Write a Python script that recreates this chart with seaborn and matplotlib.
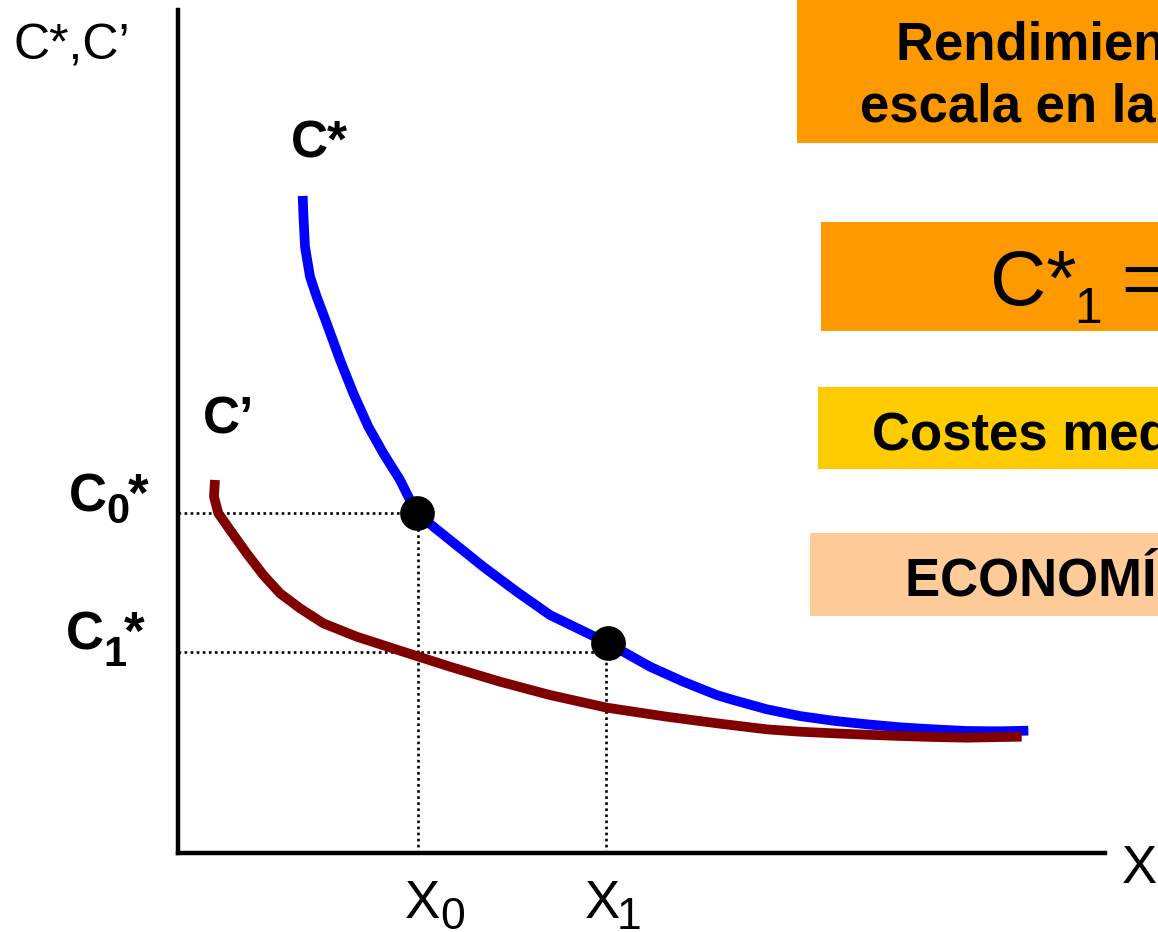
import numpy as np
import pandas as pd
import seaborn as sns
import matplotlib
matplotlib.use("Agg")
import matplotlib.pyplot as plt
from matplotlib.patches import Rectangle

# ---------------- data (arbitrary units) ----------------
x_star = [13.45, 13.52, 13.70, 14.24, 14.96, 16.04, 17.48, 18.91, 20.53, 22.15,
          23.95, 25.75, 29.34, 32.93, 36.54, 40.13, 46.42, 50.92, 54.51, 58.11,
          59.90, 63.51, 67.07, 70.69, 74.29, 77.89, 81.48, 85.08, 88.67, 91.73]
c_star = [77.94, 75.88, 71.92, 68.36, 65.99, 62.83, 58.48, 54.53, 50.57, 47.41,
          44.25, 40.30, 37.13, 33.96, 31.00, 28.23, 24.88, 22.10, 20.32, 18.74,
          18.15, 17.05, 16.25, 15.69, 15.27, 14.91, 14.67, 14.47, 14.44, 14.51]

x_prime = [3.99, 3.88, 4.35, 5.61, 7.41, 9.20, 11.00, 13.16, 15.67, 19.28, 23.95,
           29.34, 34.74, 40.13, 46.25, 52.72, 58.11, 63.51, 67.07, 70.69, 74.29,
           77.89, 81.48, 85.08, 91.01]
c_prime = [44.25, 42.27, 40.30, 38.32, 35.55, 32.98, 30.81, 29.03, 27.25, 25.66,
           24.00, 22.10, 20.32, 18.74, 17.24, 16.17, 15.39, 14.67, 14.39, 14.20,
           14.03, 13.88, 13.76, 13.68, 13.80]

x_points = [25.75, 46.42]    # marked points on C*
c_points = [40.30, 24.88]
x_guides = [25.89, 46.17]    # X0, X1
c_guides = [40.39, 23.81]    # C0*, C1*

axis_y_label = "C*,C’"
axis_x_label = "X"
curve_labels = ["C*", "C’"]
box_lines = ["Rendimientos crecientes de", "escala en la producción"]
box_costes = "Costes medios decrecientes"
box_econ = "ECONOMÍAS DE ESCALA"

# ---------------- style ----------------
sns.set_theme(style="white")
plt.rcParams["font.family"] = ["Liberation Sans", "DejaVu Sans"]

W, H = 1158, 932
fig = plt.figure(figsize=(W / 100, H / 100), dpi=100)
fig.patch.set_facecolor("white")


def P(x, y):
    """pixel (from top-left) -> figure fraction"""
    return x / W, 1 - y / H


ax = fig.add_axes([178 / W, (H - 853) / H, 927 / W, 843 / H])
ax.set_xlim(0, 100)
ax.set_ylim(0, 100)
ax.set_facecolor("none")
for s in ["top", "right"]:
    ax.spines[s].set_visible(False)
for s in ["left", "bottom"]:
    ax.spines[s].set_linewidth(3.2)
    ax.spines[s].set_color("black")
ax.set_xticks([])
ax.set_yticks([])

# dotted guide lines
dot_style = dict(color="black", lw=1.9, ls=(0, (1, 1.3)), zorder=2,
                 solid_capstyle="butt", dash_capstyle="butt")
for xg, cg in zip(x_guides, c_guides):
    ax.plot([0, xg], [cg, cg], **dot_style)
    ax.plot([xg, xg], [0, cg], **dot_style)

# curves
df_star = pd.DataFrame({"x": x_star, "c": c_star})
df_prime = pd.DataFrame({"x": x_prime, "c": c_prime})
sns.lineplot(data=df_star, x="x", y="c", sort=False, estimator=None, color="#0000FF",
             lw=7.0, ax=ax, zorder=3, solid_capstyle="butt", solid_joinstyle="round")
sns.lineplot(data=df_prime, x="x", y="c", sort=False, estimator=None, color="#800000",
             lw=7.0, ax=ax, zorder=3, solid_capstyle="butt", solid_joinstyle="round")

# points
sns.scatterplot(x=x_points, y=c_points, s=25 ** 2, color="black", edgecolor="black",
                linewidth=0, ax=ax, zorder=5)
ax.set_xlabel("")
ax.set_ylabel("")

# ---------------- boxes on the right (cut by the frame) ----------------
boxes = [(797, 0, 143, "#FF9900"), (821, 222, 331, "#FF9900"),
         (818, 387, 469, "#FFCC00"), (810, 533, 616, "#FFCC99")]
for x0, y0, y1, col in boxes:
    fig.patches.append(Rectangle(P(x0, y1), 800 / W, (y1 - y0) / H,
                                 transform=fig.transFigure, facecolor=col,
                                 edgecolor="none", zorder=0))

bold = dict(fontweight="bold", color="black", va="baseline", ha="left")
fig.text(*P(896, 59), box_lines[0], fontsize=38, **bold)
fig.text(*P(860, 122), box_lines[1], fontsize=38, **bold)
fig.text(*P(872, 449), box_costes, fontsize=38, **bold)
fig.text(*P(905, 596), box_econ, fontsize=38, **bold)

reg = dict(color="black", va="baseline", ha="left")
fig.text(*P(990, 305), "C*", fontsize=56, **reg)
fig.text(*P(1074, 323), "1", fontsize=36, **reg)
fig.text(*P(1121, 305), "=", fontsize=56, **reg)

# ---------------- labels ----------------
fig.text(*P(13, 59), axis_y_label, fontsize=36, **reg)
fig.text(*P(1122, 883), axis_x_label, fontsize=38, **reg)

fig.text(*P(291, 158), curve_labels[0], fontsize=37, **bold)
fig.text(*P(203, 433), curve_labels[1], fontsize=37, **bold)

# C0*, C1*
fig.text(*P(69, 511), "C", fontsize=38, **bold)
fig.text(*P(106, 523), "0", fontsize=30, **bold)
fig.text(*P(128, 511), "*", fontsize=38, **bold)
fig.text(*P(66, 649), "C", fontsize=38, **bold)
fig.text(*P(103, 666), "1", fontsize=30, **bold)
fig.text(*P(124, 649), "*", fontsize=38, **bold)

# X0, X1
fig.text(*P(405, 918), "X", fontsize=38, **reg)
fig.text(*P(440, 929), "0", fontsize=32, **reg)
fig.text(*P(585, 918), "X", fontsize=38, **reg)
fig.text(*P(617, 929), "1", fontsize=32, **reg)

fig.savefig("out.png", dpi=100, facecolor="white")
